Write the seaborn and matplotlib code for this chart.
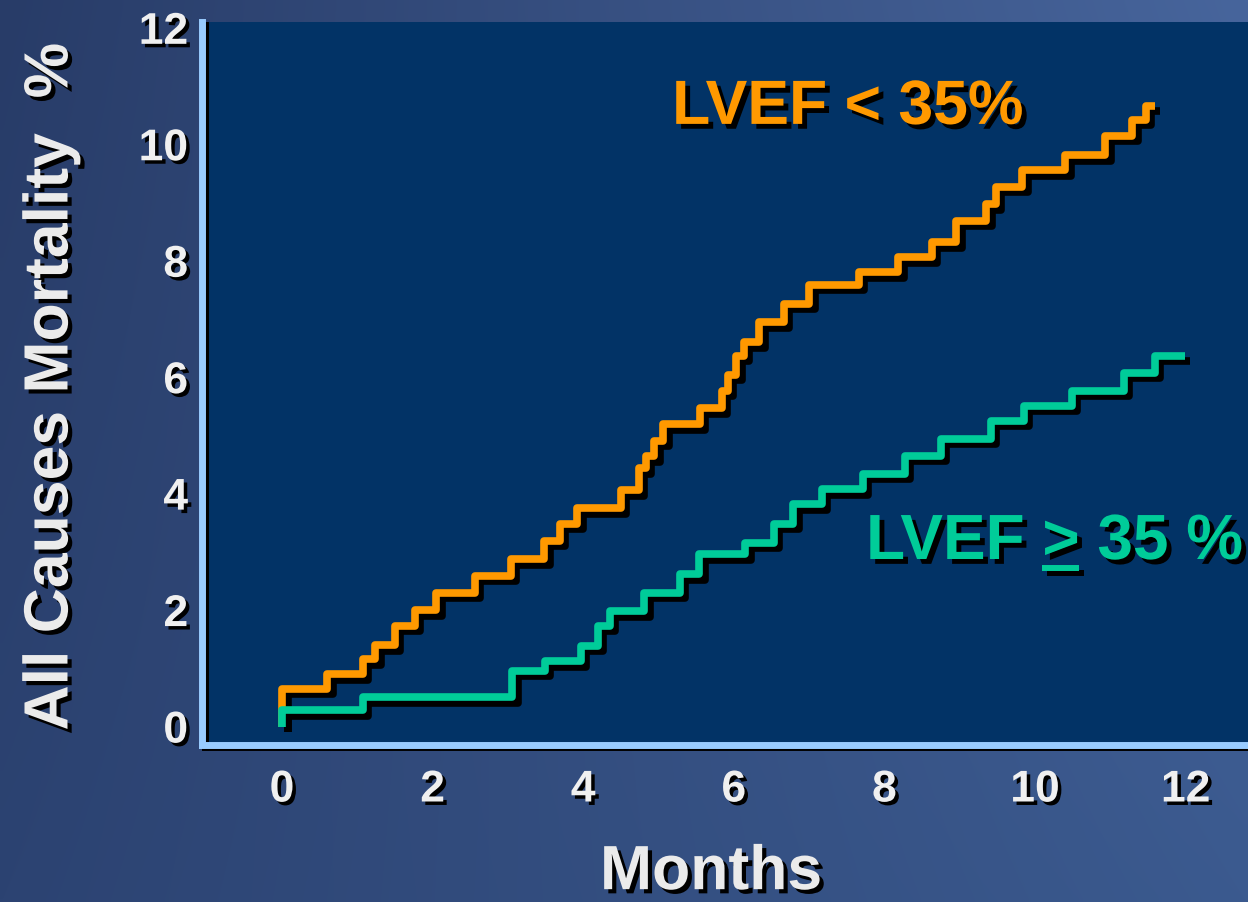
import numpy as np
import pandas as pd
import matplotlib
matplotlib.use("Agg")
import matplotlib.pyplot as plt
import matplotlib.patheffects as pe
from matplotlib.colors import to_rgb
from matplotlib.lines import Line2D
import seaborn as sns

# Cumulative all-cause mortality (%) by month, step curves
months_low = [0, 0, 0.60, 1.07, 1.24, 1.50, 1.76, 2.05, 2.56, 3.04, 3.48, 3.69,
              3.92, 4.50, 4.74, 4.83, 4.94, 5.06, 5.55, 5.84, 5.92, 6.03, 6.13,
              6.34, 6.66, 7.00, 7.66, 8.18, 8.63, 8.95, 9.35, 9.48, 9.83, 10.40,
              10.93, 11.29, 11.47, 11.59]
mort_low = [0, 0.65, 0.90, 1.16, 1.40, 1.73, 2.00, 2.30, 2.59, 2.87, 3.19, 3.48,
            3.75, 4.06, 4.44, 4.64, 4.91, 5.19, 5.47, 5.77, 6.04, 6.37, 6.60,
            6.94, 7.26, 7.59, 7.80, 8.06, 8.32, 8.69, 8.97, 9.27, 9.55, 9.81,
            10.15, 10.42, 10.66, 10.66]

months_high = [0, 0, 1.07, 3.06, 3.49, 3.97, 4.19, 4.35, 4.81, 5.28, 5.54, 6.15,
               6.53, 6.79, 7.17, 7.71, 8.27, 8.75, 9.41, 9.85, 10.49, 11.18,
               11.59, 11.99]
mort_high = [0, 0.28, 0.50, 0.96, 1.12, 1.39, 1.73, 1.98, 2.30, 2.62, 2.96, 3.16,
             3.48, 3.82, 4.08, 4.34, 4.65, 4.94, 5.25, 5.51, 5.77, 6.08, 6.37,
             6.37]

group_names = ["LVEF < 35%", "LVEF > 35 %"]
x_ticks = [0, 2, 4, 6, 8, 10, 12]
y_ticks = [0, 2, 4, 6, 8, 10, 12]
x_title = "Months"
y_title = "All Causes Mortality  %"

ORANGE = "#FF9900"
GREEN = "#00CC99"
AXIS_BLUE = "#99CCFF"
PANEL = "#023366"
TEXT = "#F0F0F0"

sns.set_style("white")
plt.rcParams["font.family"] = ["Liberation Sans", "DejaVu Sans"]
plt.rcParams["font.weight"] = "bold"

W, H, DPI = 1248, 903, 100
fig = plt.figure(figsize=(W / DPI, H / DPI), dpi=DPI)

# soft blue backdrop behind the panel
bg = fig.add_axes([0, 0, 1, 1], zorder=-10)
tl, tr, bl, br = [np.array(to_rgb(c)) for c in ("#283c68", "#47659c", "#2c4372", "#3b5a8f")]
u = np.linspace(0, 1, 200)[None, :, None]
v = np.linspace(0, 1, 150)[:, None, None]
img = (1 - v) * ((1 - u) * tl + u * tr) + v * ((1 - u) * bl + u * br)
bg.imshow(img, aspect="auto", extent=[0, 1, 0, 1], interpolation="bilinear")
bg.set_axis_off()

ax = fig.add_axes([202 / W, 1 - 745.5 / H, (1273 - 202) / W, (745.5 - 23) / H])
ax.set_facecolor(PANEL)

df = pd.DataFrame({
    "month": months_low + months_high,
    "mortality": mort_low + mort_high,
    "group": [group_names[0]] * len(months_low) + [group_names[1]] * len(months_high),
})
sns.lineplot(data=df, x="month", y="mortality", hue="group",
             palette=[ORANGE, GREEN], estimator=None, sort=False,
             drawstyle="steps-post", linewidth=5.5, legend=False, ax=ax,
             solid_joinstyle="round", solid_capstyle="butt")
for ln in ax.lines:
    ln.set_path_effects([pe.SimpleLineShadow(offset=(4, -4), shadow_color="black", alpha=1.0),
                         pe.Normal()])

ax.set_xlim(-1.062, 13.16)
ax.set_ylim(-0.309, 12.10)

for side in ("top", "right"):
    ax.spines[side].set_visible(False)
for side in ("left", "bottom"):
    sp = ax.spines[side]
    sp.set_color(AXIS_BLUE)
    sp.set_linewidth(5)
    sp.set_path_effects([pe.SimpleLineShadow(offset=(2, -2), shadow_color="black", alpha=1.0),
                         pe.Normal()])

ax.set_xticks(x_ticks)
ax.set_yticks(y_ticks)
ax.set_xticklabels([str(t) for t in x_ticks])
ax.set_yticklabels([str(t) for t in y_ticks])
ax.tick_params(direction="in", length=11, width=5.5, color=AXIS_BLUE,
               labelsize=32, labelcolor=TEXT)
ax.tick_params(axis="x", pad=18)
ax.tick_params(axis="y", pad=10)

label_shadow = [pe.SimplePatchShadow(offset=(2.5, -2.5), shadow_rgbFace="black", alpha=1.0),
                pe.Normal()]
tick_shadow = [pe.SimpleLineShadow(offset=(2, -2), shadow_color="black", alpha=1.0),
               pe.Normal()]
for tick in ax.xaxis.get_major_ticks() + ax.yaxis.get_major_ticks():
    tick.label1.set_fontweight("bold")
    tick.label1.set_path_effects(label_shadow)
    tick.tick1line.set_path_effects(tick_shadow)

title_shadow = [pe.SimplePatchShadow(offset=(3, -3), shadow_rgbFace="black", alpha=1.0),
                pe.Normal()]
ax.set_xlabel(x_title, fontsize=45, color="#EBEBEB", fontweight="bold")
ax.xaxis.set_label_coords(0.4753, -0.1774)
ax.xaxis.label.set_verticalalignment("center")
ax.xaxis.label.set_path_effects(title_shadow)

ax.set_ylabel(y_title, fontsize=45, color="#EBEBEB", fontweight="bold")
ax.yaxis.set_label_coords(-0.141, 0.4955)
ax.yaxis.label.set_verticalalignment("center")
ax.yaxis.label.set_horizontalalignment("center")
ax.yaxis.label.set_path_effects(title_shadow)

series_shadow = [pe.SimplePatchShadow(offset=(3.5, -3.5), shadow_rgbFace="black", alpha=1.0),
                 pe.Normal()]
ax.text(5.18, 10.35, group_names[0], color=ORANGE, fontsize=45, fontweight="bold",
        ha="left", va="baseline", path_effects=series_shadow)
t_high = ax.text(7.756, 2.877, group_names[1], color=GREEN, fontsize=46,
                 fontweight="bold", ha="left", va="baseline", path_effects=series_shadow)

# underline the ">" so it reads as "greater than or equal"
renderer = fig.canvas.get_renderer()
prop = t_high.get_fontproperties()
w_pre, _, _ = renderer.get_text_width_height_descent("LVEF >", prop, ismath=False)
w_gt, _, _ = renderer.get_text_width_height_descent(">", prop, ismath=False)
tx, ty = ax.transData.transform((7.756, 2.877))
x0, x1 = tx + w_pre - w_gt, tx + w_pre
yline = ty - 9
inv = fig.transFigure.inverted()
(fx0, fy), (fx1, _) = inv.transform([(x0, yline), (x1, yline)])
fig.add_artist(Line2D([fx0, fx1], [fy, fy], transform=fig.transFigure, color=GREEN,
                      linewidth=4.3, solid_capstyle="butt",
                      path_effects=[pe.SimpleLineShadow(offset=(3.5, -3.5),
                                                        shadow_color="black", alpha=1.0),
                                    pe.Normal()]))

fig.savefig("out.png", dpi=DPI, facecolor=fig.get_facecolor())
